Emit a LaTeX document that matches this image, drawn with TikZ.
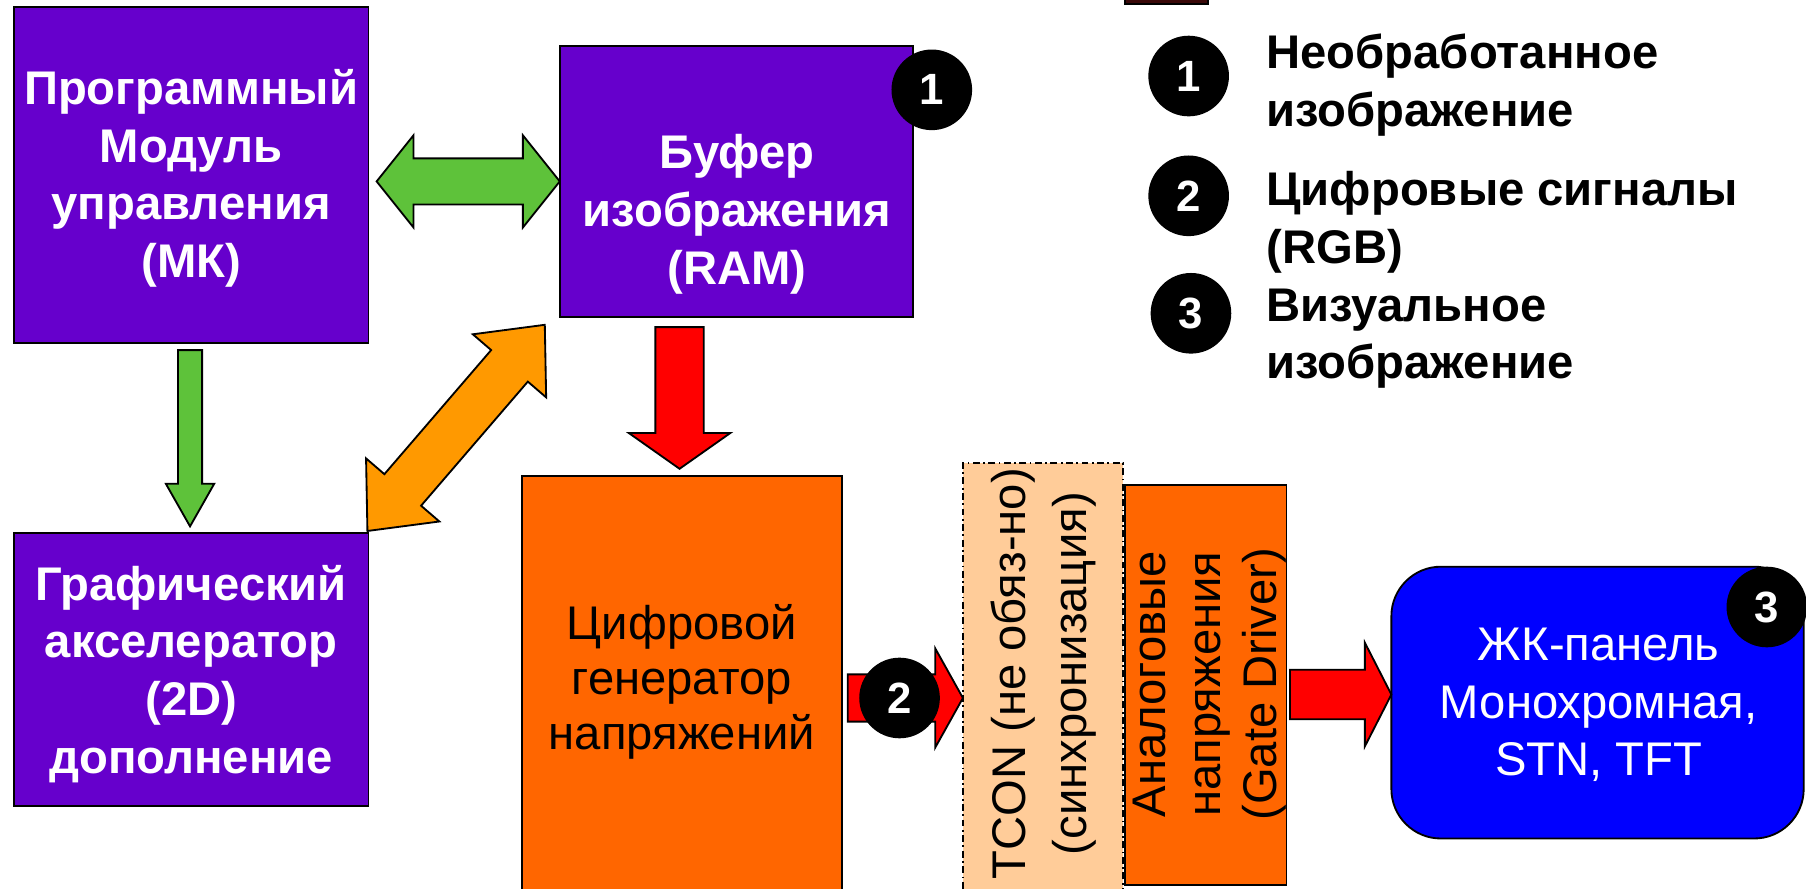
\documentclass[tikz,border=0pt]{standalone}
\usepackage{fontspec}
\setmainfont{Liberation Sans}
\usetikzlibrary{calc}

\definecolor{boxviolet}{HTML}{6600CC}
\definecolor{boxorange}{HTML}{FF6600}
\definecolor{boxpeach}{HTML}{FFCC99}
\definecolor{boxblue}{HTML}{0000FF}
\definecolor{arrgreen}{HTML}{5EC23A}
\definecolor{arrorange}{HTML}{FF9900}
\definecolor{arrred}{HTML}{FF0000}
\definecolor{topmaroon}{HTML}{3A0808}

\tikzset{
  outline/.style={draw=black, line width=1.6pt},
  plainbox/.style={outline, rectangle, inner sep=0pt, outer sep=0pt},
  bigbold/.style={font=\fontsize{41}{50}\selectfont\bfseries, align=center},
  bigreg/.style={font=\fontsize{41}{48}\selectfont, align=center},
  badge/.style={circle, fill=black, text=white, minimum size=70pt, inner sep=0pt,
    font=\fontsize{38}{38}\selectfont\bfseries},
  greenarr/.style={outline, fill=arrgreen},
  orangearr/.style={outline, fill=arrorange},
  redarr/.style={outline, fill=arrred},
}

% fat two-headed arrow: style, from, to, shaft half-width, head half-width, head length
\newcommand\fatdouble[6]{%
  \coordinate (aS) at (#2);
  \coordinate (aE) at (#3);
  \coordinate (aB) at ($(aS)!#6!(aE)$);
  \coordinate (aC) at ($(aE)!#6!(aS)$);
  \draw[#1] (aS) -- ($(aB)!#5!90:(aE)$) -- ($(aB)!#4!90:(aE)$)
    -- ($(aC)!#4!-90:(aS)$) -- ($(aC)!#5!-90:(aS)$) -- (aE)
    -- ($(aC)!#5!90:(aS)$) -- ($(aC)!#4!90:(aS)$)
    -- ($(aB)!#4!-90:(aE)$) -- ($(aB)!#5!-90:(aE)$) -- cycle;}

% fat one-headed arrow: style, from, to, shaft half-width, head half-width, head length
\newcommand\fatsingle[6]{%
  \coordinate (aS) at (#2);
  \coordinate (aE) at (#3);
  \coordinate (aC) at ($(aE)!#6!(aS)$);
  \draw[#1] ($(aS)!#4!90:(aE)$) -- ($(aC)!#4!-90:(aS)$) -- ($(aC)!#5!-90:(aS)$)
    -- (aE) -- ($(aC)!#5!90:(aS)$) -- ($(aC)!#4!90:(aS)$)
    -- ($(aS)!#4!-90:(aE)$) -- cycle;}

\begin{document}
\begin{tikzpicture}[x=1pt, y=-1pt]
  \useasboundingbox[fill=white] (0,0) rectangle (1568,771);

  % cut-off strip at the top edge
  \node[plainbox, fill=topmaroon, minimum width=72pt, minimum height=9pt] (strip) at (1013,-1) {};

  % blocks
  \node[plainbox, fill=boxviolet, minimum width=308pt, minimum height=292pt] (mk) at (166,152) {};
  \node[plainbox, fill=boxviolet, minimum width=307pt, minimum height=235pt] (buf) at (639.5,157.5) {};
  \node[plainbox, fill=boxviolet, minimum width=308pt, minimum height=237pt] (acc) at (166,581.5) {};
  \node[plainbox, fill=boxorange, minimum width=278pt, minimum height=387pt] (gen) at (592,606.5) {};
  \node[plainbox, draw=black, line width=1.4pt, dash pattern=on 6pt off 3pt on 1.5pt off 3pt,
        fill=boxpeach, minimum width=139pt, minimum height=398pt] (tcon) at (905.5,601) {};
  \node[plainbox, fill=boxorange, minimum width=140pt, minimum height=347pt] (ana) at (1047,594.5) {};
  \node[plainbox, fill=boxblue, rounded corners=43pt, minimum width=358pt, minimum height=236pt] (lcd) at (1387,610) {};

  % block texts
  \node[bigbold, text=white] (mktxt) at (166,155) {Программный\\Модуль\\управления\\(МК)};
  \node[bigbold, text=white] (buftxt) at (640,186) {Буфер\\изображения\\(RAM)};
  \node[bigbold, text=white] (acctxt) at (166,585) {Графический\\акселератор\\(2D)\\дополнение};
  \node[bigreg, text=black] (gentxt) at (592,592) {Цифровой\\генератор\\напряжений};
  \node[font=\fontsize{41}{53}\selectfont, align=center, rotate=90] (tcontxt) at (906,585)
        {TCON (не обяз-но)\\(синхронизация)};
  \node[bigreg, rotate=90] (anatxt) at (1050,594) {Аналоговые\\напряжения\\(Gate Driver)};
  \node[font=\fontsize{41}{50}\selectfont, align=center, text=white] (lcdtxt) at (1388,612)
        {ЖК-панель\\Монохромная,\\STN, TFT};

  % connectors
  \fatdouble{greenarr}{$(buf.west)+(-159,0)$}{buf.west}{20pt}{40pt}{32pt}
  \fatsingle{greenarr}{$(mk.south)+(-1,6)$}{$(acc.north)+(-1,-6)$}{10.5pt}{21pt}{37pt}
  \fatdouble{orangearr}{$(acc.north east)+(-1,-2)$}{$(buf.south west)+(-13,7)$}{21pt}{42pt}{47pt}
  \fatsingle{redarr}{$(buf.south -| gen.north)+(-2,9)$}{$(gen.north)+(-2,-6)$}{21pt}{44pt}{31pt}
  \fatsingle{redarr}{$(gen.east |- 0,606)+(5,0)$}{tcon.west |- 0,606}{20.5pt}{43pt}{24pt}
  \fatsingle{redarr}{$(ana.east |- 0,603)+(3,0)$}{lcd.west |- 0,603}{21.5pt}{45pt}{23pt}

  % numbered markers
  \node[badge] (b1) at (809,78) {1};
  \node[badge] (b2) at (781,606) {2};
  \node[badge] (b3) at (1534,527) {3};

  % legend
  \node[badge] (l1) at (1032,66) {1};
  \node[badge] (l2) at (1032,170) {2};
  \node[badge] (l3) at (1034,272) {3};
  \node[bigbold, align=left, anchor=west] (l1txt) at (1096,74) {Необработанное\\изображение};
  \node[bigbold, align=left, anchor=west] (l2txt) at (1096,193) {Цифровые сигналы\\(RGB)};
  \node[bigbold, align=left, anchor=west] (l3txt) at (1096,294) {Визуальное\\изображение};
\end{tikzpicture}
\end{document}
